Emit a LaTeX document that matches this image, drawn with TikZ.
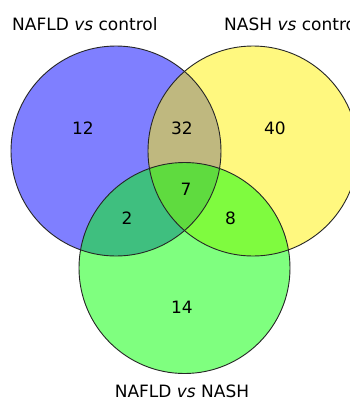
\documentclass[tikz,border=0pt]{standalone}
\usepackage{fontspec}
\setmainfont{DejaVu Sans}
\begin{document}
\begin{tikzpicture}[x=1pt,y=-1pt,
  setfill/.style={circle,inner sep=0pt,minimum size=#1,fill opacity=0.5,text opacity=1},
  setline/.style={draw=black!85,line width=0.9pt},
  lbl/.style={font=\fontsize{17}{20}\selectfont,inner sep=0pt,anchor=base west},
  num/.style={font=\fontsize{17}{20}\selectfont,inner sep=0pt,anchor=base}]
\clip (0,0) rectangle (350,400);
\fill[white] (0,0) rectangle (350,400);
% translucent set fills, layered blue -> yellow -> green
\node[setfill=210pt,fill=blue]   (A) at (116,151) {};
\node[setfill=210pt,fill=yellow] (B) at (253,151) {};
\node[setfill=211pt,fill=green]  (C) at (184.5,268) {};
% outlines on top
\draw[setline] (A.center) circle[radius=105pt];
\draw[setline] (B.center) circle[radius=105pt];
\draw[setline] (C.center) circle[radius=105.5pt];
% set labels
\node[lbl] (la) at (12,30)  {NAFLD \textit{vs} control};
\node[lbl] (lb) at (224,30) {NASH \textit{vs} control};
\node[lbl,anchor=base] (lc) at (182,397) {NAFLD \textit{vs} NASH};
% region counts
\node[num] (nA)   at (83,134)    {12};
\node[num] (nAB)  at (182,134)   {32};
\node[num] (nB)   at (275,134)   {40};
\node[num] (nABC) at (186,195.5) {7};
\node[num] (nAC)  at (127,224)   {2};
\node[num] (nBC)  at (230.5,224) {8};
\node[num] (nC)   at (182,313)   {14};
\end{tikzpicture}
\end{document}
